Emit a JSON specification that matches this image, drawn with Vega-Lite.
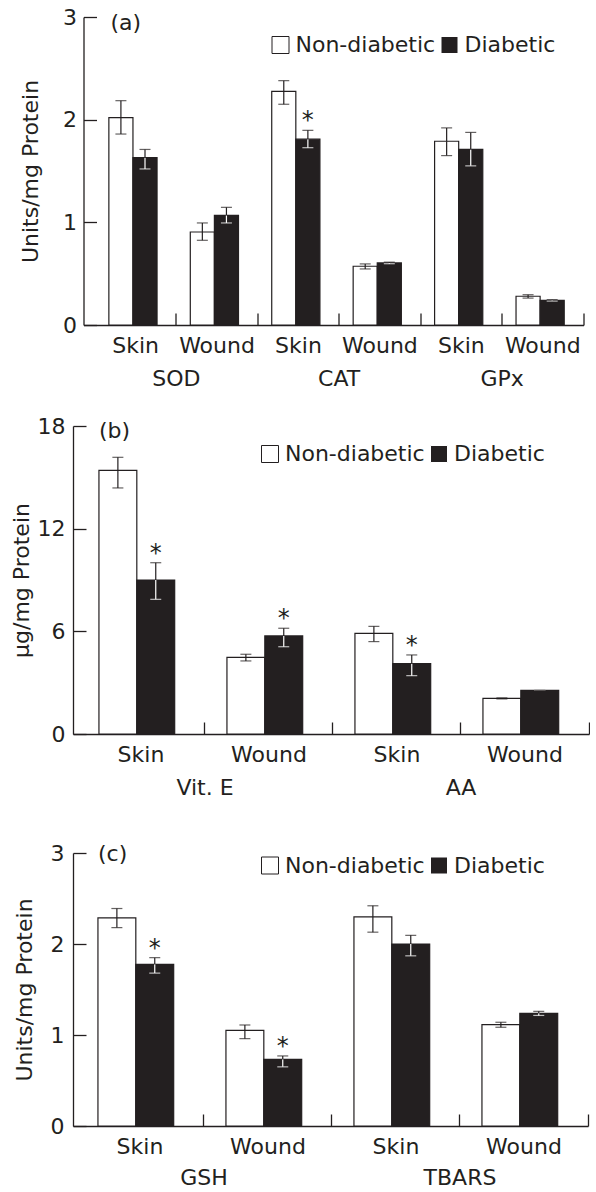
{
  "$schema": "https://vega.github.io/schema/vega-lite/v6.json",
  "padding": {"left": 10, "top": 6, "right": 0, "bottom": 0},
  "config": {
    "font": "DejaVu Sans",
    "view": {"stroke": null},
    "axis": {
      "labelFont": "DejaVu Sans", "titleFont": "DejaVu Sans",
      "labelFontSize": 22, "titleFontSize": 22, "titleFontWeight": "normal",
      "labelColor": "#231f20", "titleColor": "#231f20",
      "domainColor": "#231f20", "tickColor": "#231f20",
      "domainWidth": 1.3, "tickWidth": 1.3, "grid": false
    },
    "legend": {
      "labelFont": "DejaVu Sans", "labelFontSize": 22, "labelColor": "#231f20",
      "symbolType": "square", "symbolSize": 289, "symbolStrokeColor": "#231f20",
      "symbolStrokeWidth": 1, "labelOffset": 4, "columnPadding": 3, "padding": 0
    },
    "title": {"font": "DejaVu Sans", "fontSize": 22, "fontWeight": "normal", "color": "#231f20"},
    "text": {"font": "DejaVu Sans", "fontSize": 22, "color": "#231f20"}
  },
  "datasets": {
    "a": [
      {"grp": "SOD", "tis": "Skin", "key": "SOD|Skin", "cond": "Non-diabetic", "mean": 2.02, "lo": 1.86, "hi": 2.185, "star": false},
      {"grp": "SOD", "tis": "Skin", "key": "SOD|Skin", "cond": "Diabetic", "mean": 1.63, "lo": 1.52, "hi": 1.71, "star": false},
      {"grp": "SOD", "tis": "Wound", "key": "SOD|Wound", "cond": "Non-diabetic", "mean": 0.906, "lo": 0.825, "hi": 0.994, "star": false},
      {"grp": "SOD", "tis": "Wound", "key": "SOD|Wound", "cond": "Diabetic", "mean": 1.068, "lo": 0.994, "hi": 1.146, "star": false},
      {"grp": "CAT", "tis": "Skin", "key": "CAT|Skin", "cond": "Non-diabetic", "mean": 2.276, "lo": 2.15, "hi": 2.38, "star": false},
      {"grp": "CAT", "tis": "Skin", "key": "CAT|Skin", "cond": "Diabetic", "mean": 1.81, "lo": 1.727, "hi": 1.896, "star": true},
      {"grp": "CAT", "tis": "Wound", "key": "CAT|Wound", "cond": "Non-diabetic", "mean": 0.572, "lo": 0.546, "hi": 0.595, "star": false},
      {"grp": "CAT", "tis": "Wound", "key": "CAT|Wound", "cond": "Diabetic", "mean": 0.605, "lo": 0.597, "hi": 0.612, "star": false},
      {"grp": "GPx", "tis": "Skin", "key": "GPx|Skin", "cond": "Non-diabetic", "mean": 1.79, "lo": 1.65, "hi": 1.92, "star": false},
      {"grp": "GPx", "tis": "Skin", "key": "GPx|Skin", "cond": "Diabetic", "mean": 1.71, "lo": 1.55, "hi": 1.876, "star": false},
      {"grp": "GPx", "tis": "Wound", "key": "GPx|Wound", "cond": "Non-diabetic", "mean": 0.28, "lo": 0.262, "hi": 0.295, "star": false},
      {"grp": "GPx", "tis": "Wound", "key": "GPx|Wound", "cond": "Diabetic", "mean": 0.24, "lo": 0.233, "hi": 0.247, "star": false}
    ],
    "b": [
      {"grp": "Vit. E", "tis": "Skin", "key": "Vit. E|Skin", "cond": "Non-diabetic", "mean": 15.41, "lo": 14.38, "hi": 16.17, "star": false},
      {"grp": "Vit. E", "tis": "Skin", "key": "Vit. E|Skin", "cond": "Diabetic", "mean": 9.0, "lo": 7.87, "hi": 10.01, "star": true},
      {"grp": "Vit. E", "tis": "Wound", "key": "Vit. E|Wound", "cond": "Non-diabetic", "mean": 4.48, "lo": 4.27, "hi": 4.66, "star": false},
      {"grp": "Vit. E", "tis": "Wound", "key": "Vit. E|Wound", "cond": "Diabetic", "mean": 5.73, "lo": 5.1, "hi": 6.18, "star": true},
      {"grp": "AA", "tis": "Skin", "key": "AA|Skin", "cond": "Non-diabetic", "mean": 5.88, "lo": 5.4, "hi": 6.29, "star": false},
      {"grp": "AA", "tis": "Skin", "key": "AA|Skin", "cond": "Diabetic", "mean": 4.11, "lo": 3.41, "hi": 4.62, "star": true},
      {"grp": "AA", "tis": "Wound", "key": "AA|Wound", "cond": "Non-diabetic", "mean": 2.08, "lo": 2.05, "hi": 2.11, "star": false},
      {"grp": "AA", "tis": "Wound", "key": "AA|Wound", "cond": "Diabetic", "mean": 2.55, "lo": 2.55, "hi": 2.55, "star": false}
    ],
    "c": [
      {"grp": "GSH", "tis": "Skin", "key": "GSH|Skin", "cond": "Non-diabetic", "mean": 2.286, "lo": 2.18, "hi": 2.39, "star": false},
      {"grp": "GSH", "tis": "Skin", "key": "GSH|Skin", "cond": "Diabetic", "mean": 1.777, "lo": 1.68, "hi": 1.85, "star": true},
      {"grp": "GSH", "tis": "Wound", "key": "GSH|Wound", "cond": "Non-diabetic", "mean": 1.05, "lo": 0.96, "hi": 1.11, "star": false},
      {"grp": "GSH", "tis": "Wound", "key": "GSH|Wound", "cond": "Diabetic", "mean": 0.733, "lo": 0.65, "hi": 0.77, "star": true},
      {"grp": "TBARS", "tis": "Skin", "key": "TBARS|Skin", "cond": "Non-diabetic", "mean": 2.297, "lo": 2.13, "hi": 2.42, "star": false},
      {"grp": "TBARS", "tis": "Skin", "key": "TBARS|Skin", "cond": "Diabetic", "mean": 2.0, "lo": 1.87, "hi": 2.095, "star": false},
      {"grp": "TBARS", "tis": "Wound", "key": "TBARS|Wound", "cond": "Non-diabetic", "mean": 1.113, "lo": 1.085, "hi": 1.14, "star": false},
      {"grp": "TBARS", "tis": "Wound", "key": "TBARS|Wound", "cond": "Diabetic", "mean": 1.238, "lo": 1.215, "hi": 1.26, "star": false}
    ]
  },
  "columns": 1,
  "align": "none",
  "spacing": 42,
  "resolve": {"scale": {"x": "independent", "y": "independent", "fill": "independent", "color": "independent", "xOffset": "independent"}, "legend": {"fill": "independent", "color": "independent"}},
  "concat": [
    {
      "columns": 1,
      "align": "none",
      "spacing": 24,
      "resolve": {"scale": {"x": "independent", "y": "independent", "fill": "independent", "color": "independent", "xOffset": "independent"}, "legend": {"fill": "independent", "color": "independent"}},
      "concat": [
        {
          "spacing": 9.5,
          "bounds": "flush",
          "resolve": {"scale": {"x": "independent", "y": "independent", "fill": "independent", "color": "independent", "xOffset": "independent"}, "legend": {"fill": "independent", "color": "independent"}},
          "hconcat": [
            {"width": 1, "height": 1, "data": {"values": []}, "mark": "point", "encoding": {}},
            {
              "width": 500, "height": 308,
              "title": {"text": "(a)", "anchor": "start", "frame": "group", "dx": 27, "dy": 38.7, "offset": 0, "baseline": "middle"},
              "data": {"name": "a"},
              "layer": [
                {
                  "mark": {"type": "bar", "stroke": "#231f20", "strokeWidth": 1.2},
                  "encoding": {
                    "x": {"field": "key", "type": "nominal", "scale": {"domain": ["SOD|Skin", "SOD|Wound", "CAT|Skin", "CAT|Wound", "GPx|Skin", "GPx|Wound"], "paddingInner": 0, "paddingOuter": 0.07, "align": 1},
                          "axis": {"title": null, "labelExpr": "split(datum.label, '|')[1]", "labelAngle": 0, "bandPosition": 1, "tickSize": -12, "labelPadding": 22, "labelOverlap": false}},
                    "xOffset": {"field": "cond", "type": "nominal", "scale": {"domain": ["Non-diabetic", "Diabetic"], "paddingInner": 0, "paddingOuter": 0.69, "align": 0.42}},
                    "y": {"field": "mean", "type": "quantitative", "scale": {"domain": [0, 3], "nice": false},
                          "axis": {"title": "Units/mg Protein", "values": [0, 1, 2, 3], "format": "d", "tickSize": -13, "labelPadding": 20, "titlePadding": 20}},
                    "fill": {"field": "cond", "type": "nominal", "scale": {"domain": ["Non-diabetic", "Diabetic"], "range": ["#ffffff", "#231f20"]},
                             "legend": {"title": null, "orient": "none", "direction": "horizontal", "legendX": 186, "legendY": 17}}
                  }
                },
                {
                  "mark": {"type": "rule", "strokeWidth": 1.2},
                  "encoding": {
                    "x": {"field": "key", "type": "nominal"},
                    "xOffset": {"field": "cond", "type": "nominal"},
                    "y": {"field": "lo", "type": "quantitative"},
                    "y2": {"field": "mean"},
                    "color": {"field": "cond", "type": "nominal", "scale": {"domain": ["Non-diabetic", "Diabetic"], "range": ["#231f20", "#ffffff"]}, "legend": null}
                  }
                },
                {
                  "mark": {"type": "tick", "size": 11, "thickness": 1.2},
                  "encoding": {
                    "x": {"field": "key", "type": "nominal"},
                    "xOffset": {"field": "cond", "type": "nominal"},
                    "y": {"field": "lo", "type": "quantitative"},
                    "color": {"field": "cond", "type": "nominal", "legend": null}
                  }
                },
                {
                  "mark": {"type": "rule", "strokeWidth": 1.2, "color": "#231f20"},
                  "encoding": {
                    "x": {"field": "key", "type": "nominal"},
                    "xOffset": {"field": "cond", "type": "nominal"},
                    "y": {"field": "mean", "type": "quantitative"},
                    "y2": {"field": "hi"}
                  }
                },
                {
                  "mark": {"type": "tick", "size": 11, "thickness": 1.2, "color": "#231f20"},
                  "encoding": {
                    "x": {"field": "key", "type": "nominal"},
                    "xOffset": {"field": "cond", "type": "nominal"},
                    "y": {"field": "hi", "type": "quantitative"}
                  }
                },
                {
                  "transform": [{"filter": "datum.star"}],
                  "mark": {"type": "text", "fontSize": 24, "baseline": "alphabetic", "dy": -2},
                  "encoding": {
                    "x": {"field": "key", "type": "nominal"},
                    "xOffset": {"field": "cond", "type": "nominal"},
                    "y": {"field": "hi", "type": "quantitative"},
                    "text": {"value": "*"}
                  }
                },
                {
                  "transform": [{"filter": "datum.tis == 'Wound' && datum.cond == 'Diabetic'"}],
                  "mark": {"type": "text", "baseline": "middle"},
                  "encoding": {
                    "x": {"field": "key", "type": "nominal", "bandPosition": 0},
                    "y": {"datum": -0.53, "type": "quantitative"},
                    "text": {"field": "grp"}
                  }
                }
              ]
            }
          ]
        },
        {
          "width": 516, "height": 308,
          "title": {"text": "(b)", "anchor": "start", "frame": "group", "dx": 26, "dy": 38, "offset": 0, "baseline": "middle"},
          "data": {"name": "b"},
          "layer": [
            {
              "mark": {"type": "bar", "stroke": "#231f20", "strokeWidth": 1.2},
              "encoding": {
                "x": {"field": "key", "type": "nominal", "scale": {"domain": ["Vit. E|Skin", "Vit. E|Wound", "AA|Skin", "AA|Wound"], "paddingInner": 0, "paddingOuter": 0.0156, "align": 1},
                      "axis": {"title": null, "labelExpr": "split(datum.label, '|')[1]", "labelAngle": 0, "bandPosition": 1, "tickSize": -12, "labelPadding": 22, "labelOverlap": false}},
                "xOffset": {"field": "cond", "type": "nominal", "scale": {"domain": ["Non-diabetic", "Diabetic"], "paddingInner": 0, "paddingOuter": 0.69, "align": 0.42}},
                "y": {"field": "mean", "type": "quantitative", "scale": {"domain": [0, 18], "nice": false},
                      "axis": {"title": "μg/mg Protein", "values": [0, 6, 12, 18], "format": "d", "tickSize": -13, "labelPadding": 21, "titlePadding": 4}},
                "fill": {"field": "cond", "type": "nominal", "scale": {"domain": ["Non-diabetic", "Diabetic"], "range": ["#ffffff", "#231f20"]},
                         "legend": {"title": null, "orient": "none", "direction": "horizontal", "legendX": 186, "legendY": 17}}
              }
            },
            {
              "mark": {"type": "rule", "strokeWidth": 1.2},
              "encoding": {
                "x": {"field": "key", "type": "nominal"},
                "xOffset": {"field": "cond", "type": "nominal"},
                "y": {"field": "lo", "type": "quantitative"},
                "y2": {"field": "mean"},
                "color": {"field": "cond", "type": "nominal", "scale": {"domain": ["Non-diabetic", "Diabetic"], "range": ["#231f20", "#ffffff"]}, "legend": null}
              }
            },
            {
              "mark": {"type": "tick", "size": 11, "thickness": 1.2},
              "encoding": {
                "x": {"field": "key", "type": "nominal"},
                "xOffset": {"field": "cond", "type": "nominal"},
                "y": {"field": "lo", "type": "quantitative"},
                "color": {"field": "cond", "type": "nominal", "legend": null}
              }
            },
            {
              "mark": {"type": "rule", "strokeWidth": 1.2, "color": "#231f20"},
              "encoding": {
                "x": {"field": "key", "type": "nominal"},
                "xOffset": {"field": "cond", "type": "nominal"},
                "y": {"field": "mean", "type": "quantitative"},
                "y2": {"field": "hi"}
              }
            },
            {
              "mark": {"type": "tick", "size": 11, "thickness": 1.2, "color": "#231f20"},
              "encoding": {
                "x": {"field": "key", "type": "nominal"},
                "xOffset": {"field": "cond", "type": "nominal"},
                "y": {"field": "hi", "type": "quantitative"}
              }
            },
            {
              "transform": [{"filter": "datum.star"}],
              "mark": {"type": "text", "fontSize": 24, "baseline": "alphabetic", "dy": -2},
              "encoding": {
                "x": {"field": "key", "type": "nominal"},
                "xOffset": {"field": "cond", "type": "nominal"},
                "y": {"field": "hi", "type": "quantitative"},
                "text": {"value": "*"}
              }
            },
            {
              "transform": [{"filter": "datum.tis == 'Wound' && datum.cond == 'Diabetic'"}],
              "mark": {"type": "text", "baseline": "middle"},
              "encoding": {
                "x": {"field": "key", "type": "nominal", "bandPosition": 0},
                "y": {"datum": -3.16, "type": "quantitative"},
                "text": {"field": "grp"}
              }
            }
          ]
        }
      ]
    },
    {
      "width": 515, "height": 273,
      "title": {"text": "(c)", "anchor": "start", "frame": "group", "dx": 25, "dy": 34, "offset": 0, "baseline": "middle"},
      "data": {"name": "c"},
      "layer": [
        {
          "mark": {"type": "bar", "stroke": "#231f20", "strokeWidth": 1.2},
          "encoding": {
            "x": {"field": "key", "type": "nominal", "scale": {"domain": ["GSH|Skin", "GSH|Wound", "TBARS|Skin", "TBARS|Wound"], "paddingInner": 0, "paddingOuter": 0.0117, "align": 1},
                  "axis": {"title": null, "labelExpr": "split(datum.label, '|')[1]", "labelAngle": 0, "bandPosition": 1, "tickSize": -12, "labelPadding": 22, "labelOverlap": false}},
            "xOffset": {"field": "cond", "type": "nominal", "scale": {"domain": ["Non-diabetic", "Diabetic"], "paddingInner": 0, "paddingOuter": 0.69, "align": 0.42}},
            "y": {"field": "mean", "type": "quantitative", "scale": {"domain": [0, 3], "nice": false},
                  "axis": {"title": "Units/mg Protein", "values": [0, 1, 2, 3], "format": "d", "tickSize": -13, "labelPadding": 22, "titlePadding": 14}},
            "fill": {"field": "cond", "type": "nominal", "scale": {"domain": ["Non-diabetic", "Diabetic"], "range": ["#ffffff", "#231f20"]},
                     "legend": {"title": null, "orient": "none", "direction": "horizontal", "legendX": 186, "legendY": 1.5}}
          }
        },
        {
          "mark": {"type": "rule", "strokeWidth": 1.2},
          "encoding": {
            "x": {"field": "key", "type": "nominal"},
            "xOffset": {"field": "cond", "type": "nominal"},
            "y": {"field": "lo", "type": "quantitative"},
            "y2": {"field": "mean"},
            "color": {"field": "cond", "type": "nominal", "scale": {"domain": ["Non-diabetic", "Diabetic"], "range": ["#231f20", "#ffffff"]}, "legend": null}
          }
        },
        {
          "mark": {"type": "tick", "size": 11, "thickness": 1.2},
          "encoding": {
            "x": {"field": "key", "type": "nominal"},
            "xOffset": {"field": "cond", "type": "nominal"},
            "y": {"field": "lo", "type": "quantitative"},
            "color": {"field": "cond", "type": "nominal", "legend": null}
          }
        },
        {
          "mark": {"type": "rule", "strokeWidth": 1.2, "color": "#231f20"},
          "encoding": {
            "x": {"field": "key", "type": "nominal"},
            "xOffset": {"field": "cond", "type": "nominal"},
            "y": {"field": "mean", "type": "quantitative"},
            "y2": {"field": "hi"}
          }
        },
        {
          "mark": {"type": "tick", "size": 11, "thickness": 1.2, "color": "#231f20"},
          "encoding": {
            "x": {"field": "key", "type": "nominal"},
            "xOffset": {"field": "cond", "type": "nominal"},
            "y": {"field": "hi", "type": "quantitative"}
          }
        },
        {
          "transform": [{"filter": "datum.star"}],
          "mark": {"type": "text", "fontSize": 24, "baseline": "alphabetic", "dy": -2},
          "encoding": {
            "x": {"field": "key", "type": "nominal"},
            "xOffset": {"field": "cond", "type": "nominal"},
            "y": {"field": "hi", "type": "quantitative"},
            "text": {"value": "*"}
          }
        },
        {
          "transform": [{"filter": "datum.tis == 'Wound' && datum.cond == 'Diabetic'"}],
          "mark": {"type": "text", "baseline": "middle"},
          "encoding": {
            "x": {"field": "key", "type": "nominal", "bandPosition": 0},
            "y": {"datum": -0.574, "type": "quantitative"},
            "text": {"field": "grp"}
          }
        }
      ]
    }
  ]
}
